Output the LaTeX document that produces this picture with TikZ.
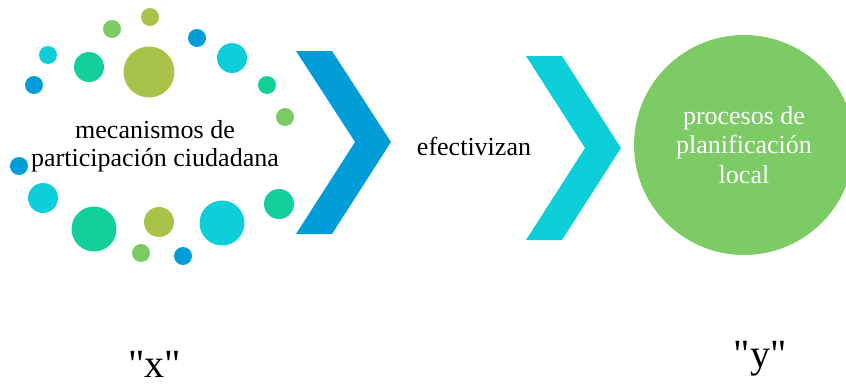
\documentclass[tikz,border=0pt]{standalone}
\usepackage{fontspec}
\setmainfont{Liberation Serif}
\usepackage{tikz}
\usetikzlibrary{calc}

\definecolor{olive}{HTML}{A8C34A}
\definecolor{lgreen}{HTML}{7CCB64}
\definecolor{dblue}{HTML}{009DD9}
\definecolor{cyanb}{HTML}{0DCFDA}
\definecolor{teal}{HTML}{13D09B}

\begin{document}
\begin{tikzpicture}[x=1pt, y=-1pt, every node/.style={font=\fontsize{26}{29.5}\selectfont}]
\useasboundingbox (0,0) rectangle (846,383);
% dots round the first box
\foreach \x/\y/\r/\c in {150/17/9/olive, 112/29/9/lgreen, 197/38/9/dblue,
  48/55/9/cyanb, 89/67/15/teal, 149/72/25.5/olive, 232/58/15/cyanb,
  34/85/9/dblue, 267/85/9/teal, 285/117/9/lgreen, 19/166/9/dblue,
  43/198/15/cyanb, 94/229/22.5/teal, 159/222/15/olive, 222/223/22.5/cyanb,
  279/204/15/teal, 141/253/9/lgreen, 183/256/9/dblue}
  \fill[\c] (\x,\y) circle (\r);
\path
(155,146) node[align=center, font=\fontsize{26}{28.5}\selectfont] (mec) {mecanismos de\\participación ciudadana};
% chevrons
\fill[dblue] (296,51)--(332,51)--(391,142)--(332,234)--(296,234)--(355,142)--cycle;
\fill[cyanb] (526,56)--(562,56)--(621,148)--(562,240)--(526,240)--(585,148)--cycle;
\path
(474,155) node[anchor=base] (efe) {efectivizan};
\node[circle, fill=lgreen, minimum size=220pt, inner sep=0pt, align=center,
  text=white] (plan) at (744,145) {procesos de\\planificación\\local};
\path
(154.5,377) node[anchor=base, inner sep=1pt, font=\fontsize{40}{44}\selectfont] (vx) {\textquotedbl x\textquotedbl};
\path
(760,367) node[anchor=base, inner sep=1pt, font=\fontsize{40}{44}\selectfont] (vy) {\textquotedbl y\textquotedbl};
\end{tikzpicture}
\end{document}
